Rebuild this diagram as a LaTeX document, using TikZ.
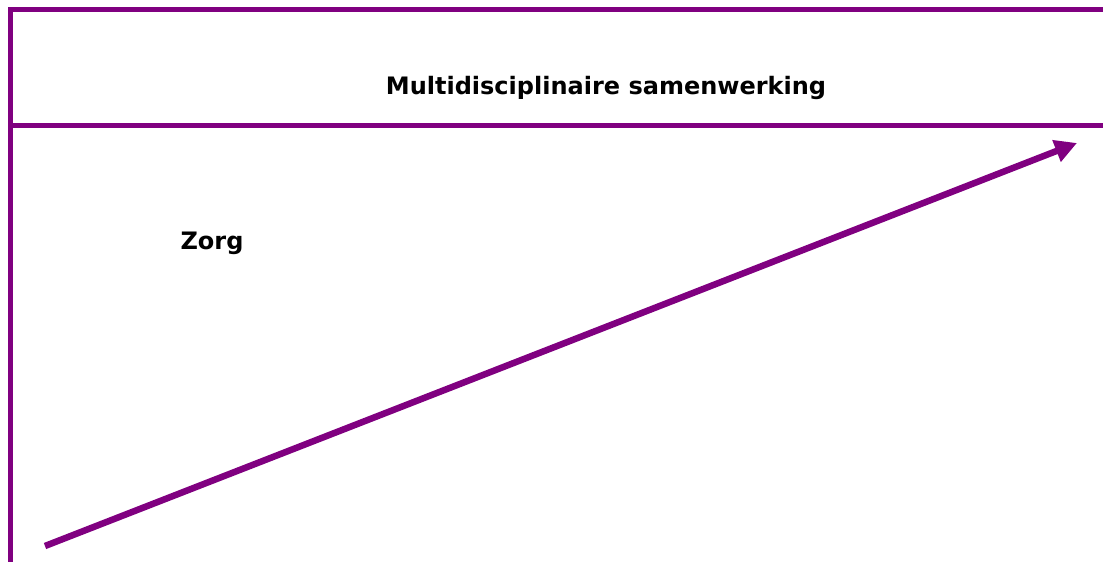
\documentclass[tikz,border=0pt]{standalone}
\usepackage{fontspec}
\setmainfont{DejaVu Sans}
\usetikzlibrary{positioning}
\usetikzlibrary{arrows.meta}
\definecolor{zorgpurple}{RGB}{128,0,128}

\tikzset{
  frameline/.style={zorgpurple, line width=5pt},
  growarrow/.style={zorgpurple, line width=6.5pt, -{Triangle[length=22pt,width=22pt]}},
  labeltext/.style={font=\fontsize{24}{28}\selectfont\bfseries, text=black, inner sep=0pt}
}

\begin{document}
\begin{tikzpicture}[x=1pt,y=-1pt]

\useasboundingbox (0,0) rectangle (1103,562);

%corners of the frame
{
\coordinate (topleft) at (10,9);
\coordinate (topright) at (1103,9);
\coordinate (midleft) at (10,125);
\coordinate (midright) at (1103,125);
\coordinate (bottomleft) at (10,562);
}

\draw[frameline] (topright)--(topleft)--(bottomleft);
\draw[frameline] (midleft)--(midright);

%the arrow
{
\coordinate (arrowstart) at (45,546);
\coordinate (arrowend) at (1077,143);
\draw[growarrow] (arrowstart)--(arrowend);
}

% nodes
{
\node[labeltext] (samenwerking) at (606,88) {Multidisciplinaire samenwerking};
\node[labeltext] (zorg) at (212,243) {Zorg};
}

\end{tikzpicture}
\end{document}
